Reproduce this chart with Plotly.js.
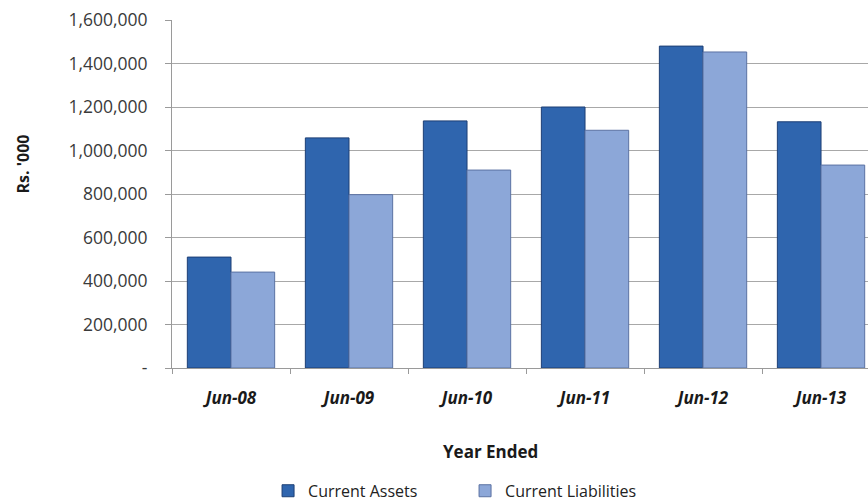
<!DOCTYPE html>
<html>
<head>
<meta charset="utf-8">
<script src="https://cdn.plot.ly/plotly-3.0.1.min.js"></script>
<style>html,body{margin:0;padding:0;background:#fff;}#chart{width:868px;height:503px;}</style>
</head>
<body>
<div id="chart"></div>
<script>
const categories = ["Jun-08", "Jun-09", "Jun-10", "Jun-11", "Jun-12", "Jun-13"];
const currentAssets = [510000, 1058000, 1136000, 1200000, 1480000, 1132000];
const currentLiabilities = [441000, 797000, 910000, 1093000, 1453000, 933000];
const yTickVals = [0, 200000, 400000, 600000, 800000, 1000000, 1200000, 1400000, 1600000];
const yTickText = ["-", "200,000", "400,000", "600,000", "800,000", "1,000,000", "1,200,000", "1,400,000", "1,600,000"];
const xTitle = "Year Ended";
const yTitle = "Rs. '000";

const font = "'Open Sans', 'Noto Sans', sans-serif";

const traces = [
  {
    type: "bar", name: "Current Assets", x: categories, y: currentAssets,
    marker: {color: "#2f65ae", line: {color: "#1d3f75", width: 1}},
    hoverinfo: "skip"
  },
  {
    type: "bar", name: "Current Liabilities", x: categories, y: currentLiabilities,
    marker: {color: "#8ca7d8", line: {color: "#5b72a3", width: 1}},
    hoverinfo: "skip"
  }
];

const layout = {
  width: 868, height: 503,
  margin: {l: 172, r: 0, t: 20, b: 135, autoexpand: false},
  paper_bgcolor: "#ffffff", plot_bgcolor: "#ffffff",
  barmode: "group", bargap: 0.26, bargroupgap: 0,
  showlegend: true,
  legend: {orientation: "h", x: 0.138, xanchor: "left", y: -0.353, yanchor: "middle",
           font: {family: font, size: 16, color: "#222"}, traceorder: "normal",
           entrywidth: 152, entrywidthmode: "pixels", itemwidth: 30},
  xaxis: {
    type: "category", range: [-0.5, 5.398], showgrid: false,
    showline: true, linecolor: "#9a9a9a", linewidth: 1,
    ticks: "outside", tickson: "boundaries", ticklen: 5, tickcolor: "#9a9a9a",
    ticklabelstandoff: 15,
    tickfont: {family: font, size: 17, color: "#1a1a1a", weight: "bold", style: "italic"},
    automargin: false, fixedrange: true
  },
  yaxis: {
    range: [0, 1600000], tickvals: yTickVals, ticktext: yTickText,
    showgrid: true, gridcolor: "#a8a8a8", gridwidth: 1,
    showline: true, linecolor: "#9a9a9a", linewidth: 1,
    ticks: "outside", ticklen: 6, tickcolor: "#9a9a9a",
    ticklabelstandoff: 14, zeroline: false,
    tickfont: {family: font, size: 17.5, color: "#3a3a3a"},
    automargin: false, fixedrange: true
  },
  annotations: [
    {text: xTitle, xref: "paper", yref: "paper", x: 0.458, y: -0.241, xanchor: "center", yanchor: "middle",
     showarrow: false, font: {family: font, size: 17, color: "#1a1a1a", weight: "bold"}},
    {text: yTitle, xref: "paper", yref: "paper", x: -0.214, y: 0.585, xanchor: "center", yanchor: "middle",
     textangle: -90, showarrow: false, font: {family: font, size: 16, color: "#1a1a1a", weight: "bold"}}
  ]
};

Plotly.newPlot("chart", traces, layout, {displayModeBar: false, staticPlot: true});
</script>
</body>
</html>
